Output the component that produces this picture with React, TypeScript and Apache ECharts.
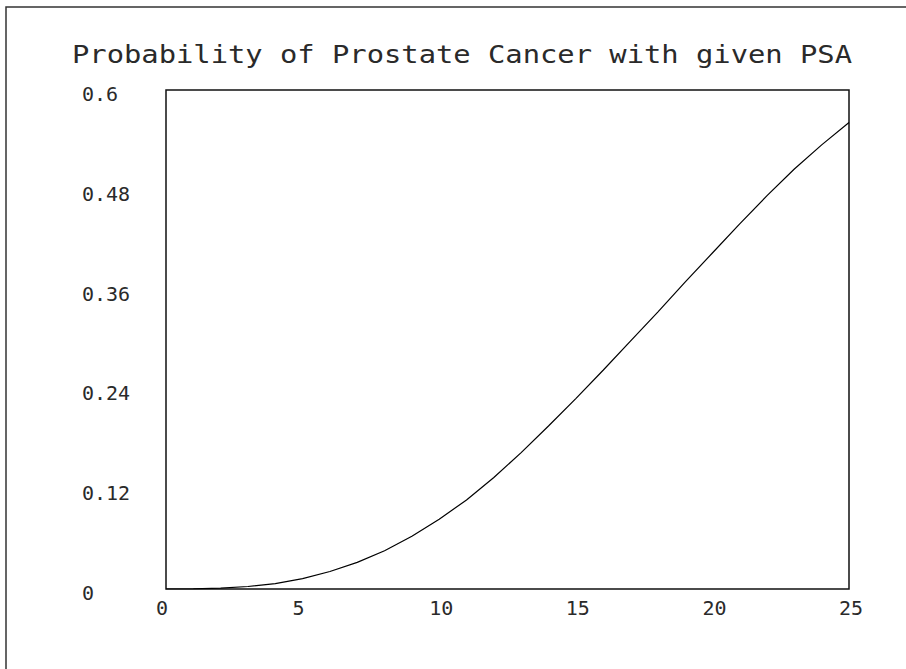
import React, { useEffect, useRef } from "react";
import * as echarts from "echarts";

const titleText = "Probability of Prostate Cancer with given PSA";
const psaValues = [0, 1, 2, 3, 4, 5, 6, 7, 8, 9, 10, 11, 12, 13, 14, 15, 16, 17, 18, 19, 20, 21, 22, 23, 24, 25];
const probValues = [
  0, 0.0001, 0.001, 0.003, 0.0065, 0.0125, 0.021, 0.032, 0.046, 0.0635, 0.084,
  0.107, 0.134, 0.164, 0.196, 0.229, 0.263, 0.298, 0.333, 0.369, 0.404, 0.439,
  0.473, 0.505, 0.534, 0.561,
];
const yTicks = [0, 0.12, 0.24, 0.36, 0.48, 0.6];
const xTicks = [0, 5, 10, 15, 20, 25];

const FONT = "DejaVu Sans Mono";
const TEXT_COLOR = "#2a2a2a";

export default function App() {
  const ref = useRef<HTMLDivElement>(null);
  useEffect(() => {
    if (!ref.current) return;
    const chart = echarts.init(ref.current, null, { renderer: "svg" });
    const data = psaValues.map((x, i) => [x, probValues[i]]);
    chart.setOption({
      animation: false,
      backgroundColor: "#fff",
      grid: {
        left: 166,
        top: 90,
        width: 683,
        height: 499,
        show: true,
        borderColor: "#111",
        borderWidth: 1.5,
        backgroundColor: "transparent",
      },
      xAxis: {
        type: "value",
        min: 0,
        max: 25,
        interval: 5,
        axisLine: { show: false },
        axisTick: { show: false },
        splitLine: { show: false },
        axisLabel: {
          show: true,
          margin: 9,
          align: "left",
          padding: [0, 0, 0, -10],
          color: TEXT_COLOR,
          fontFamily: FONT,
          fontSize: 20,
          formatter: (v: number) => (xTicks.includes(v) ? String(v) : ""),
        },
      },
      yAxis: {
        type: "value",
        min: 0,
        max: 0.6,
        interval: 0.12,
        axisLine: { show: false },
        axisTick: { show: false },
        splitLine: { show: false },
        axisLabel: {
          show: true,
          margin: 84,
          align: "left",
          verticalAlign: "middle",
          color: TEXT_COLOR,
          fontFamily: FONT,
          fontSize: 20,
          formatter: (v: number) => {
            const t = yTicks.find((k) => Math.abs(k - v) < 1e-9);
            return t === undefined ? "" : "{v|" + String(t) + "}";
          },
          rich: {
            v: {
              padding: [8, 0, 0, 0],
              color: TEXT_COLOR,
              fontFamily: FONT,
              fontSize: 20,
            },
          },
        },
      },
      graphic: [
        {
          type: "rect",
          shape: { x: 6, y: 7, width: 1200, height: 1200 },
          style: { fill: "none", stroke: "#333", lineWidth: 1.5 },
          silent: true,
        },
        {
          type: "text",
          x: 72,
          y: 54,
          scaleX: 1.2,
          scaleY: 1,
          style: {
            text: titleText,
            fontFamily: FONT,
            fontSize: 24,
            fill: TEXT_COLOR,
            align: "left",
            verticalAlign: "middle",
          },
        },
      ],
      series: [
        {
          type: "line",
          data,
          showSymbol: false,
          smooth: false,
          lineStyle: { color: "#000", width: 1.2 },
        },
      ],
    });
    return () => chart.dispose();
  }, []);
  return (
    <div
      ref={ref}
      style={{ position: "fixed", left: 0, top: 0, width: 906, height: 669, background: "#fff" }}
    />
  );
}
